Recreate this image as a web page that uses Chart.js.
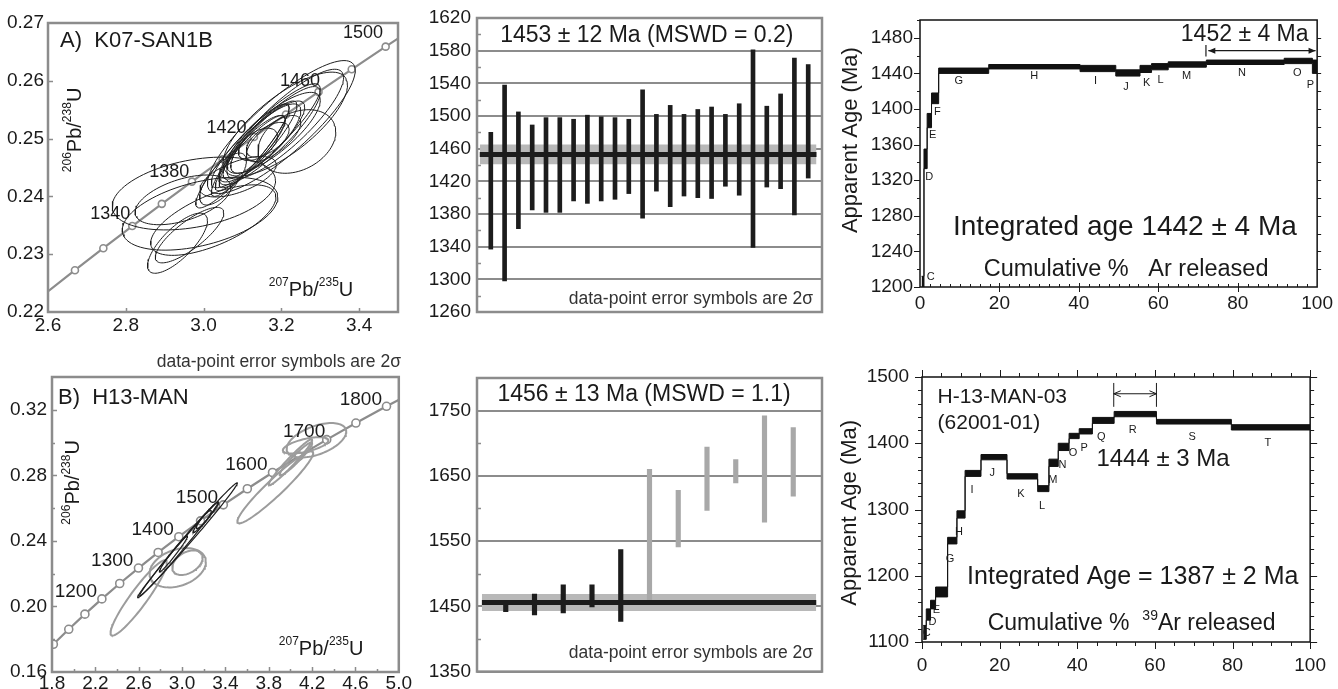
<!DOCTYPE html>
<html>
<head>
<meta charset="utf-8">
<script src="https://cdn.jsdelivr.net/npm/chart.js@4.4.1/dist/chart.umd.min.js"></script>
<style>
  html, body { margin: 0; padding: 0; background: #fff; }
  body { width: 1338px; height: 689px; position: relative; overflow: hidden; }
  canvas { position: absolute; }
</style>
</head>
<body>
<canvas id="cA"></canvas>
<canvas id="cB"></canvas>
<canvas id="cM1"></canvas>
<canvas id="cM2"></canvas>
<canvas id="cR1"></canvas>
<canvas id="cR2"></canvas>
<script>
// ---- panel A: concordia, K07-SAN1B ----
const aConcX = [2.5977, 2.6693, 2.7423, 2.8167, 2.8927, 2.9701, 3.0491, 3.1296, 3.2118, 3.2956, 3.3810, 3.4682, 3.5573];
const aConcY = [0.22343, 0.22723, 0.23104, 0.23487, 0.23871, 0.24256, 0.24642, 0.25029, 0.25418, 0.25808, 0.26199, 0.26591, 0.26984];
const aMarked = [false, true, true, true, true, true, true, true, true, true, true, true, false];
const aAgeLabels = ['1340', '1380', '1420', '1460', '1500'];
const aAgeLabX = [2.76, 2.912, 3.059, 3.248, 3.41];
const aAgeLabY = [0.2369, 0.2442, 0.2518, 0.2600, 0.2683];
// error ellipses: centre, half extents, correlation
const aEllX = [2.975, 2.991, 2.933, 2.947, 3.025, 2.964, 3.20, 3.17, 3.15, 3.16, 3.14, 3.13, 3.18, 3.12, 3.165, 3.14, 3.10, 3.21, 3.089, 3.24, 3.05, 3.21, 3.16, 3.12, 3.18];
const aEllY = [0.2405, 0.2370, 0.2319, 0.2394, 0.2359, 0.2333, 0.2520, 0.2505, 0.2495, 0.2500, 0.2490, 0.2485, 0.2510, 0.2475, 0.2498, 0.2490, 0.2470, 0.2525, 0.2434, 0.2495, 0.2430, 0.2525, 0.2505, 0.2480, 0.2500];
const aEllSX = [0.21, 0.20, 0.077, 0.123, 0.161, 0.088, 0.19, 0.13, 0.11, 0.09, 0.10, 0.08, 0.12, 0.09, 0.055, 0.05, 0.12, 0.16, 0.098, 0.10, 0.06, 0.15, 0.14, 0.10, 0.07];
const aEllSY = [0.0063, 0.0063, 0.0052, 0.0043, 0.0061, 0.0048, 0.0115, 0.0085, 0.0070, 0.0060, 0.0075, 0.0055, 0.0070, 0.0065, 0.0030, 0.0028, 0.0090, 0.0090, 0.0035, 0.0055, 0.0045, 0.0095, 0.0090, 0.0080, 0.0040];
const aEllRho = [0.35, 0.45, 0.75, 0.5, 0.65, 0.8, 0.85, 0.88, 0.85, 0.8, 0.9, 0.85, 0.8, 0.9, 0.6, 0.5, 0.92, 0.75, 0.6, 0.3, 0.7, 0.85, 0.9, 0.92, 0.7];
const aXTicks = [2.6, 2.8, 3.0, 3.2, 3.4];
const aYTicks = [0.22, 0.23, 0.24, 0.25, 0.26, 0.27];

// ---- panel B: concordia, H13-MAN ----
const bConcX = [1.6774, 1.8126, 1.9546, 2.1037, 2.2604, 2.4249, 2.5977, 2.7793, 2.9701, 3.1705, 3.3810, 3.6024, 3.8348, 4.0787, 4.3348, 4.6041, 4.8866, 5.1838];
const bConcY = [0.16781, 0.17689, 0.18605, 0.19530, 0.20461, 0.21399, 0.22343, 0.23296, 0.24256, 0.25223, 0.26199, 0.27181, 0.28172, 0.29170, 0.30176, 0.31190, 0.32212, 0.33241];
const bMarked = [false, true, true, true, true, true, true, true, true, true, true, true, true, true, true, true, true, false];
const bAgeLabels = ['1200', '1300', '1400', '1500', '1600', '1700', '1800'];
const bAgeLabX = [2.02, 2.356, 2.729, 3.138, 3.593, 4.126, 4.65];
const bAgeLabY = [0.2092, 0.2276, 0.2466, 0.2662, 0.2864, 0.3063, 0.3262];
const bEllX = [3.05, 2.97, 3.20, 3.22, 2.92, 2.60, 2.96, 3.05, 3.86, 4.24, 4.14, 4.00, 4.05];
const bEllY = [0.2404, 0.2350, 0.2530, 0.2545, 0.2320, 0.2052, 0.2236, 0.2267, 0.2727, 0.3014, 0.2983, 0.2880, 0.2900];
const bEllSX = [0.46, 0.36, 0.07, 0.12, 0.13, 0.26, 0.26, 0.14, 0.35, 0.275, 0.21, 0.20, 0.15];
const bEllSY = [0.035, 0.0285, 0.0055, 0.0095, 0.011, 0.023, 0.012, 0.0075, 0.022, 0.0105, 0.005, 0.014, 0.010];
const bEllRho = [0.995, 0.993, 0.9, 0.97, 0.98, 0.93, 0.3, 0.4, 0.95, 0.5, 0.6, 0.97, 0.95];
const bEllGrey = [false, false, false, false, false, true, true, true, true, true, true, true, true];
const bXTicks = [1.8, 2.2, 2.6, 3.0, 3.4, 3.8, 4.2, 4.6, 5.0];
const bYTicks = [0.16, 0.20, 0.24, 0.28, 0.32];

// ---- weighted mean plots ----
const m1Lo = [1337, 1298, 1362, 1385, 1382, 1382, 1396, 1393, 1396, 1398, 1405, 1375, 1408, 1389, 1402, 1400, 1399, 1414, 1403, 1339, 1413, 1411, 1379, 1424];
const m1Hi = [1480, 1538, 1505, 1489, 1498, 1498, 1496, 1501, 1499, 1498, 1496, 1532, 1502, 1513, 1502, 1508, 1511, 1502, 1515, 1581, 1512, 1527, 1571, 1563];
const m1Mean = 1453, m1Err = 12;
const m1YTicks = [1260, 1300, 1340, 1380, 1420, 1460, 1500, 1540, 1580, 1620];

const m2Lo = [1442, 1437, 1440, 1449, 1427, 1458, 1541, 1597, 1639, 1579, 1619];
const m2Hi = [1457, 1469, 1483, 1483, 1537, 1660, 1628, 1694, 1675, 1742, 1724];
const m2Rejected = [false, false, false, false, false, true, true, true, true, true, true];
const m2Mean = 1456, m2Err = 13;
const m2YTicks = [1350, 1450, 1550, 1650, 1750];

// ---- age spectra ----
const r1Cum = [0.4, 1.0, 1.8, 2.9, 4.7, 17.3, 40.3, 49.3, 55.4, 58.3, 62.5, 72.1, 91.7, 98.8, 100];
const r1Lo = [1195, 1333, 1379, 1406, 1440, 1445, 1442, 1437, 1441, 1444, 1447, 1450, 1451, 1440];
const r1Hi = [1212, 1355, 1395, 1418, 1446, 1450, 1449, 1444, 1449, 1451, 1453, 1455, 1457, 1455];
const r1Steps = ['C', 'D', 'E', 'F', 'G', 'H', 'I', 'J', 'K', 'L', 'M', 'N', 'O', 'P'];
const r1StepLabX = [2.7, 2.3, 3.2, 4.4, 9.75, 28.75, 44.2, 51.9, 57.1, 60.6, 67.1, 81.1, 95, 98.3];
const r1StepLabY = [1211, 1324, 1371, 1397, 1431, 1437, 1432, 1425, 1429, 1433, 1437, 1440, 1441, 1427];
const r1XTicks = [0, 20, 40, 60, 80, 100];
const r1YTicks = [1200, 1240, 1280, 1320, 1360, 1400, 1440, 1480];

const r2Cum = [0.3, 1.1, 2.2, 3.5, 6.6, 9.0, 11.1, 15.2, 21.9, 29.8, 32.7, 35.1, 37.9, 40.5, 43.9, 49.5, 60.4, 79.7, 100];
const r2Lo = [1104, 1133, 1150, 1168, 1248, 1287, 1350, 1375, 1346, 1327, 1365, 1389, 1407, 1414, 1430, 1440, 1429, 1420];
const r2Hi = [1125, 1150, 1163, 1183, 1258, 1298, 1359, 1383, 1354, 1336, 1376, 1400, 1415, 1422, 1439, 1448, 1436, 1428];
const r2Steps = ['C', 'D', 'E', 'G', 'H', 'I', 'J', 'K', 'L', 'M', 'N', 'O', 'P', 'Q', 'R', 'S', 'T'];
const r2StepLabX = [1.2, 2.7, 3.7, 7.2, 9.5, 12.9, 18.1, 25.5, 30.9, 33.7, 36.2, 38.9, 41.8, 46.2, 54.3, 69.6, 89.1];
const r2StepLabY = [1113, 1130, 1148, 1226, 1266, 1329, 1355, 1324, 1305, 1344, 1367, 1386, 1393, 1410, 1420, 1409, 1400];
const r2XTicks = [0, 20, 40, 60, 80, 100];
const r2YTicks = [1100, 1200, 1300, 1400, 1500];

const FONT = "'Liberation Sans', Arial, sans-serif";
const INK = '#1a1a1a';
const GREY = '#8c8c8c';

function range(a, b, s) {
  const out = [];
  for (let v = a; v <= b + 1e-9; v += s) out.push(+v.toFixed(6));
  return out;
}

function ellipse(cx, cy, sx, sy, r) {
  const pts = [];
  const k = Math.sqrt(1 - r * r);
  for (let i = 0; i <= 90; i++) {
    const t = i / 90 * 2 * Math.PI;
    pts.push({ x: cx + sx * Math.cos(t), y: cy + sy * (r * Math.cos(t) + k * Math.sin(t)) });
  }
  return pts;
}

function stepEdge(cum, vals) {
  const pts = vals.map((v, i) => ({ x: cum[i], y: v }));
  pts.push({ x: cum[cum.length - 1], y: vals[vals.length - 1] });
  return pts;
}

// text with ^{..} superscripts
function drawRich(ctx, str, px, py, size, align, rot, family, color) {
  const parts = [];
  str.split(/(\^\{[^}]*\})/).forEach(s => {
    if (!s) return;
    const m = s.match(/^\^\{([^}]*)\}$/);
    parts.push(m ? { t: m[1], sup: true } : { t: s, sup: false });
  });
  const fnt = p => `${p.sup ? Math.round(size * 0.6) : size}px ${family}`;
  let total = 0;
  parts.forEach(p => { ctx.font = fnt(p); p.w = ctx.measureText(p.t).width; total += p.w; });
  ctx.save();
  ctx.translate(px, py);
  if (rot) ctx.rotate(rot);
  let x0 = align === 'left' ? 0 : align === 'right' ? -total : -total / 2;
  ctx.fillStyle = color;
  ctx.textBaseline = 'middle';
  ctx.textAlign = 'left';
  parts.forEach(p => {
    ctx.font = fnt(p);
    ctx.fillText(p.t, x0, p.sup ? -size * 0.36 : 0);
    x0 += p.w;
  });
  ctx.restore();
}

function head(ctx, x, y, dir, open) {
  ctx.beginPath();
  ctx.moveTo(x + dir * 7, y - 3);
  ctx.lineTo(x, y);
  ctx.lineTo(x + dir * 7, y + 3);
  if (open) { ctx.stroke(); } else { ctx.closePath(); ctx.fill(); }
}

// frame, tick marks, annotations
function deco(cfg) {
  return {
    id: 'deco',
    afterDraw(chart) {
      const { ctx, chartArea: a } = chart;
      const sx = chart.scales.x, sy = chart.scales.y;
      ctx.save();
      if (cfg.frame) {
        ctx.strokeStyle = cfg.frame.color;
        ctx.lineWidth = cfg.frame.width;
        ctx.strokeRect(a.left, a.top, a.right - a.left, a.bottom - a.top);
      }
      (cfg.ticks || []).forEach(t => {
        ctx.strokeStyle = t.color || INK;
        ctx.lineWidth = t.width || 1;
        ctx.beginPath();
        t.values.forEach(v => {
          if (t.side === 'left' || t.side === 'right') {
            const p = Math.round(sy.getPixelForValue(v)) + 0.5;
            const e = t.side === 'left' ? a.left : a.right;
            const d = t.side === 'left' ? -1 : 1;
            ctx.moveTo(e + d * (t.out || 0), p);
            ctx.lineTo(e - d * (t.in || 0), p);
          } else {
            const p = Math.round(sx.getPixelForValue(v)) + 0.5;
            const e = t.side === 'bottom' ? a.bottom : a.top;
            const d = t.side === 'bottom' ? 1 : -1;
            ctx.moveTo(p, e + d * (t.out || 0));
            ctx.lineTo(p, e - d * (t.in || 0));
          }
        });
        ctx.stroke();
      });
      (cfg.lines || []).forEach(l => {
        const x1 = sx.getPixelForValue(l.x1), x2 = sx.getPixelForValue(l.x2);
        const y1 = sy.getPixelForValue(l.y1), y2 = sy.getPixelForValue(l.y2);
        ctx.strokeStyle = INK; ctx.fillStyle = INK; ctx.lineWidth = l.width || 1;
        ctx.beginPath(); ctx.moveTo(x1, y1); ctx.lineTo(x2, y2); ctx.stroke();
        if (l.heads) { head(ctx, x1, y1, 1, l.open); head(ctx, x2, y2, -1, l.open); }
      });
      (cfg.texts || []).forEach(t => {
        drawRich(ctx, t.s, sx.getPixelForValue(t.x), sy.getPixelForValue(t.y), t.size,
          t.align || 'center', t.rot || 0, t.family || FONT, t.color || INK);
      });
      ctx.restore();
    }
  };
}

function place(id, box) {
  const c = document.getElementById(id);
  c.width = box.w; c.height = box.h;
  c.style.left = box.x + 'px'; c.style.top = box.y + 'px';
  c.style.width = box.w + 'px'; c.style.height = box.h + 'px';
  return c;
}

// chart area pinned to page pixels: box = canvas, area = plot rectangle
function pinned(box, area) {
  return {
    layout: { autoPadding: false, padding: { left: 0, top: area.t - box.y, right: box.x + box.w - area.r, bottom: 0 } },
    yw: area.l - box.x,
    xh: box.y + box.h - area.b
  };
}

function linAxis(min, max, ticks, digits, fit, pad, showLabels, grid) {
  return {
    type: 'linear', min, max, offset: false,
    afterBuildTicks: s => { s.ticks = ticks.map(v => ({ value: v })); },
    afterFit: fit,
    grid: grid || { display: false, drawTicks: false },
    border: { display: false },
    ticks: {
      display: showLabels, autoSkip: false, maxRotation: 0, minRotation: 0, padding: pad,
      color: INK, font: { family: FONT, size: 19 },
      callback: v => Number(v).toFixed(digits)
    }
  };
}

function baseOptions(p) {
  return {
    responsive: false, animation: false, events: [],
    layout: p.layout,
    plugins: { legend: { display: false }, tooltip: { enabled: false } }
  };
}

// ---------- Panel A ----------
(function () {
  const box = { x: 0, y: 0, w: 410, h: 340 };
  const p = pinned(box, { l: 48, t: 23, r: 398, b: 312 });
  const ds = aEllX.map((cx, i) => ({
    data: ellipse(cx, aEllY[i], aEllSX[i], aEllSY[i], aEllRho[i]),
    showLine: true, pointRadius: 0, borderColor: '#1e1e1e', borderWidth: 1, tension: 0, fill: false
  }));
  ds.push({
    data: aConcX.map((x, i) => ({ x, y: aConcY[i] })),
    showLine: true, borderColor: GREY, borderWidth: 2.2,
    pointRadius: aMarked.map(m => m ? 3.5 : 0),
    pointBackgroundColor: '#fff', pointBorderColor: GREY, pointBorderWidth: 1.6
  });
  const texts = [
    { s: 'A)  K07-SAN1B', x: 2.631, y: 0.2669, size: 22, align: 'left' },
    { s: '^{206}Pb/^{238}U', x: 2.67, y: 0.2515, size: 20, rot: -Math.PI / 2 },
    { s: '^{207}Pb/^{235}U', x: 3.385, y: 0.2238, size: 20, align: 'right' }
  ];
  aAgeLabels.forEach((s, i) => texts.push({ s, x: aAgeLabX[i], y: aAgeLabY[i], size: 18 }));
  new Chart(place('cA', box), {
    type: 'scatter',
    data: { datasets: ds },
    options: Object.assign(baseOptions(p), {
      scales: {
        x: linAxis(2.6, 3.5, aXTicks, 1, s => { s.height = p.xh; }, 2, true),
        y: linAxis(0.22, 0.27, aYTicks, 2, s => { s.width = p.yw; }, 4, true)
      }
    }),
    plugins: [deco({
      frame: { color: GREY, width: 2.5 },
      ticks: [
        { side: 'left', values: [0.23, 0.24, 0.25, 0.26], in: 5, color: GREY, width: 1.5 },
        { side: 'bottom', values: [2.8, 3.0, 3.2, 3.4], in: 4, color: GREY, width: 1.5 }
      ],
      texts
    })]
  });
})();

// ---------- Panel B ----------
(function () {
  const box = { x: 0, y: 330, w: 412, h: 359 };
  const p = pinned(box, { l: 52, t: 377, r: 400, b: 672 });
  const ds = bEllX.map((cx, i) => ({
    data: ellipse(cx, bEllY[i], bEllSX[i], bEllSY[i], bEllRho[i]),
    showLine: true, pointRadius: 0, tension: 0, fill: false,
    borderColor: bEllGrey[i] ? '#9c9c9c' : '#1e1e1e', borderWidth: bEllGrey[i] ? 2 : 1.2
  }));
  ds.push({
    data: bConcX.map((x, i) => ({ x, y: bConcY[i] })),
    showLine: true, borderColor: GREY, borderWidth: 2.2,
    pointRadius: bMarked.map(m => m ? 4 : 0),
    pointBackgroundColor: '#fff', pointBorderColor: GREY, pointBorderWidth: 1.6
  });
  const texts = [
    { s: 'B)  H13-MAN', x: 1.855, y: 0.3271, size: 22, align: 'left' },
    { s: '^{206}Pb/^{238}U', x: 2.0, y: 0.2757, size: 20, rot: -Math.PI / 2 },
    { s: '^{207}Pb/^{235}U', x: 4.283, y: 0.174, size: 20 },
    { s: 'data-point error symbols are 2σ', x: 2.766, y: 0.3492, size: 17.5, align: 'left', color: '#333' }
  ];
  bAgeLabels.forEach((s, i) => texts.push({ s, x: bAgeLabX[i], y: bAgeLabY[i], size: 19 }));
  new Chart(place('cB', box), {
    type: 'scatter',
    data: { datasets: ds },
    options: Object.assign(baseOptions(p), {
      scales: {
        x: linAxis(1.8, 5.0, bXTicks, 1, s => { s.height = p.xh; }, 0, true),
        y: linAxis(0.16, 0.34, bYTicks, 2, s => { s.width = p.yw; }, 5, true)
      }
    }),
    plugins: [deco({
      frame: { color: GREY, width: 2.5 },
      ticks: [
        { side: 'left', values: [0.20, 0.24, 0.28, 0.32], in: 5, color: GREY, width: 1.5 },
        { side: 'left', values: [0.18, 0.22, 0.26, 0.30], in: 3, color: GREY, width: 1.5 },
        { side: 'bottom', values: range(2.2, 4.6, 0.4), in: 5, color: GREY, width: 1.5 },
        { side: 'bottom', values: range(2.0, 4.8, 0.4), in: 3, color: GREY, width: 1.5 }
      ],
      texts
    })]
  });
})();

// ---------- weighted mean panels ----------
function meanPanel(id, box, area, lo, hi, colours, mean, err, yMin, yMax, yTicks, nSlots, bandX, barW, minor, title, titleX, titleY, noteX, noteY) {
  const p = pinned(box, area);
  new Chart(place(id, box), {
    type: 'bar',
    data: {
      datasets: [
        {
          type: 'line', order: 3,
          data: [{ x: bandX[0], y: mean + err }, { x: bandX[1], y: mean + err }],
          fill: { value: mean - err }, backgroundColor: '#b8b8b8', borderWidth: 0, pointRadius: 0
        },
        {
          type: 'bar', order: 2,
          data: lo.map((v, i) => ({ x: i + 1, y: [v, hi[i]] })),
          backgroundColor: colours, barThickness: barW, borderWidth: 0
        },
        {
          type: 'line', order: 1,
          data: [{ x: bandX[0], y: mean }, { x: bandX[1], y: mean }],
          borderColor: '#1c1c1c', borderWidth: 5, pointRadius: 0, fill: false
        }
      ]
    },
    options: Object.assign(baseOptions(p), {
      scales: {
        x: Object.assign(linAxis(0, nSlots, [], 0, s => { s.height = p.xh; }, 0, false), { grid: { display: false, drawTicks: false, offset: false } }),
        y: linAxis(yMin, yMax, yTicks, 0, s => { s.width = p.yw; }, 6, true,
          { display: true, drawTicks: false, color: GREY, lineWidth: 2 })
      }
    }),
    plugins: [deco({
      frame: { color: GREY, width: 2.5 },
      ticks: [{ side: 'left', values: minor, in: 4, color: GREY, width: 1.5 }],
      texts: [
        { s: title, x: titleX, y: titleY, size: 23 },
        { s: 'data-point error symbols are 2σ', x: noteX, y: noteY, size: 17.5, align: 'right', color: '#333' }
      ]
    })]
  });
}

meanPanel('cM1', { x: 410, y: 0, w: 428, h: 330 }, { l: 477, t: 18, r: 822, b: 312 },
  m1Lo, m1Hi, m1Lo.map(() => '#1c1c1c'), m1Mean, m1Err, 1260, 1620, m1YTicks, 25, [0.2, 24.6], 4,
  range(1280, 1600, 40), '1453 ± 12 Ma (MSWD = 0.2)', 12.3, 1598, 24.35, 1276);

meanPanel('cM2', { x: 410, y: 335, w: 428, h: 354 }, { l: 477, t: 378, r: 822, b: 672 },
  m2Lo, m2Hi, m2Rejected.map(r => r ? '#a8a8a8' : '#1c1c1c'), m2Mean, m2Err, 1350, 1800, m2YTicks, 12, [0.17, 11.8], 4.5,
  [1400, 1500, 1600, 1700], '1456 ± 13 Ma (MSWD = 1.1)', 5.81, 1774, 11.69, 1379);

// ---------- age spectra ----------
// Chart.js 'before' stepping runs horizontally first, so each step keeps its own level
function spectrum(id, box, area, cum, lo, hi, yMin, yMax, xTicks, yTicks, xPad, yPad, extra) {
  const p = pinned(box, area);
  new Chart(place(id, box), {
    type: 'line',
    data: {
      datasets: [
        { data: stepEdge(cum, hi), stepped: 'before', fill: '+1', backgroundColor: '#111', borderColor: '#111', borderWidth: 1, pointRadius: 0 },
        { data: stepEdge(cum, lo), stepped: 'before', fill: false, borderColor: '#111', borderWidth: 1, pointRadius: 0 }
      ]
    },
    options: Object.assign(baseOptions(p), {
      scales: {
        x: linAxis(0, 100, xTicks, 0, s => { s.height = p.xh; }, xPad, true),
        y: linAxis(yMin, yMax, yTicks, 0, s => { s.width = p.yw; }, yPad, true)
      }
    }),
    plugins: [deco(Object.assign({ frame: { color: '#111', width: 1.5 } }, extra))]
  });
}

const r1Texts = [
  { s: '1452 ± 4 Ma', x: 81.75, y: 1483.5, size: 23 },
  { s: 'Integrated age 1442 ± 4 Ma', x: 51.6, y: 1266.6, size: 28 },
  { s: 'Cumulative %   Ar released', x: 51.9, y: 1219.4, size: 23.5 },
  { s: 'Apparent Age (Ma)', x: -17.5, y: 1365, size: 22, rot: -Math.PI / 2 }
];
r1Steps.forEach((s, i) => r1Texts.push({ s, x: r1StepLabX[i], y: r1StepLabY[i], size: 11 }));
spectrum('cR1', { x: 838, y: 0, w: 500, h: 330 }, { l: 920, t: 20, r: 1320, b: 287 },
  r1Cum, r1Lo, r1Hi, 1200, 1500, r1XTicks, r1YTicks, 5, 7, {
    ticks: [
      { side: 'left', values: range(1200, 1480, 40), out: 6 },
      { side: 'left', values: range(1220, 1500, 40), out: 3 },
      { side: 'bottom', values: [20, 40, 60, 80], out: 5, in: 4 },
      { side: 'bottom', values: range(2.5, 97.5, 2.5), in: 3 },
      { side: 'right', values: range(1220, 1480, 20), out: 4 }
    ],
    lines: [
      { x1: 72.6, y1: 1465.5, x2: 99.6, y2: 1465.5, width: 1.3, heads: true },
      { x1: 72, y1: 1459, x2: 72, y2: 1472, width: 1.2 }
    ],
    texts: r1Texts
  });

const r2Texts = [
  { s: 'H-13-MAN-03', x: 4.0, y: 1470, size: 21, align: 'left' },
  { s: '(62001-01)', x: 4.0, y: 1431, size: 21, align: 'left' },
  { s: '1444 ± 3 Ma', x: 62.1, y: 1375, size: 24 },
  { s: 'Integrated Age = 1387 ± 2 Ma', x: 54.3, y: 1198, size: 25 },
  { s: 'Cumulative %  ^{39}Ar released', x: 54, y: 1127, size: 23 },
  { s: 'Apparent Age (Ma)', x: -18.6, y: 1295, size: 22, rot: -Math.PI / 2 }
];
r2Steps.forEach((s, i) => r2Texts.push({ s, x: r2StepLabX[i], y: r2StepLabY[i], size: 11 }));
spectrum('cR2', { x: 838, y: 335, w: 500, h: 354 }, { l: 922, t: 377, r: 1320, b: 642 },
  r2Cum, r2Lo, r2Hi, 1100, 1500, r2XTicks, r2YTicks, 12, 13, {
    ticks: [
      { side: 'left', values: range(1100, 1500, 100), out: 7 },
      { side: 'left', values: range(1120, 1480, 20), out: 4 },
      { side: 'top', values: range(0, 100, 20), out: 7 },
      { side: 'top', values: range(5, 95, 5), out: 4 },
      { side: 'bottom', values: range(0, 100, 20), out: 7 },
      { side: 'bottom', values: range(5, 95, 5), out: 4 },
      { side: 'right', values: range(1100, 1500, 100), out: 7 },
      { side: 'right', values: range(1120, 1480, 20), out: 4 }
    ],
    lines: [
      { x1: 49.4, y1: 1474.7, x2: 60.4, y2: 1474.7, width: 1, heads: true, open: true },
      { x1: 49.4, y1: 1455, x2: 49.4, y2: 1491, width: 1 },
      { x1: 60.4, y1: 1455, x2: 60.4, y2: 1491, width: 1 }
    ],
    texts: r2Texts
  });
</script>
</body>
</html>
